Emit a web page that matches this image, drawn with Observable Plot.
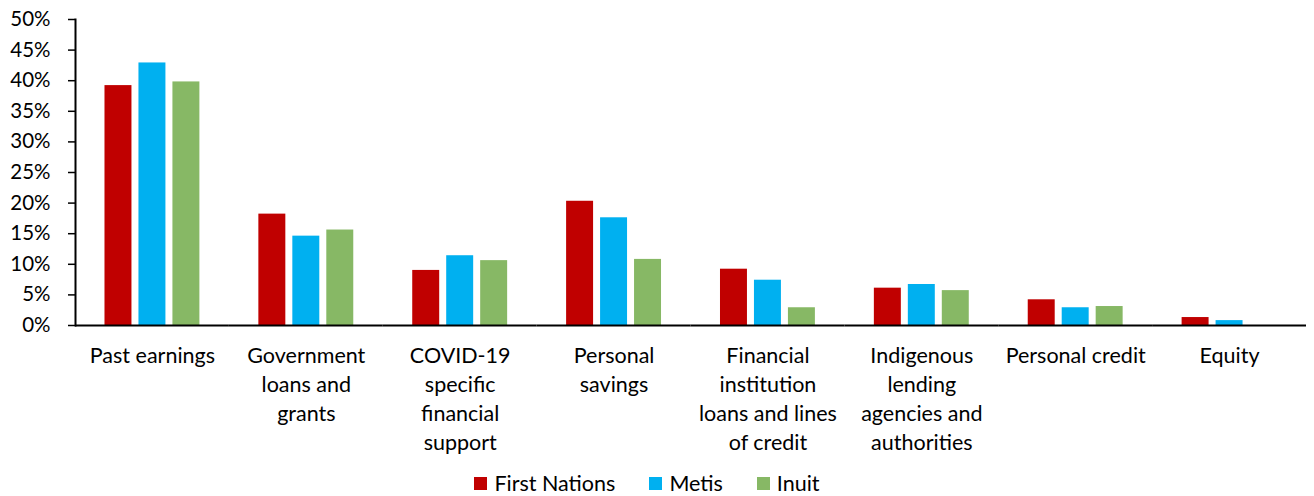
<!DOCTYPE html>
<html><head><meta charset="utf-8">
<script src="https://cdn.jsdelivr.net/npm/d3@7"></script>
<script src="https://cdn.jsdelivr.net/npm/@observablehq/plot@0.6"></script>
<style>
body{margin:0;background:#fff;font-family:Lato, "Noto Sans", sans-serif;}
#legend{display:flex;justify-content:center;align-items:center;height:26px;padding-top:8px;padding-right:20px;font-size:21.5px;color:#000;}
#legend .item{display:flex;align-items:center;margin:0 17px;}
#legend .sw{width:13px;height:13px;margin-right:7px;}
</style>
</head><body><div id="chart"></div><div id="legend"></div><script>
const categories = ["Past earnings","Government loans and grants","COVID-19 specific financial support","Personal savings","Financial institution loans and lines of credit","Indigenous lending agencies and authorities","Personal credit","Equity"];
const categoryLabels = ["Past earnings","Government\nloans and\ngrants","COVID-19\nspecific\nfinancial\nsupport","Personal\nsavings","Financial\ninstitution\nloans and lines\nof credit","Indigenous\nlending\nagencies and\nauthorities","Personal credit","Equity"];
const series = ["First Nations","Metis","Inuit"];
const firstNations = [39.2, 18.2, 9.0, 20.3, 9.2, 6.1, 4.2, 1.3];
const metis = [42.9, 14.6, 11.4, 17.6, 7.4, 6.7, 2.9, 0.8];
const inuit = [39.8, 15.6, 10.6, 10.8, 2.9, 5.7, 3.1, 0];
const colors = ["#C00000","#00B0F0","#87B865"];
const yTicks = [0,5,10,15,20,25,30,35,40,45,50];

const seriesValues = [firstNations, metis, inuit];
const data = [];
categories.forEach((c, i) => series.forEach((s, j) => data.push({category: c, series: s, value: seriesValues[j][i]})));

const plot = Plot.plot({
  width: 1314, height: 462,
  marginLeft: 75, marginRight: 8, marginTop: 19, marginBottom: 137,
  style: {fontFamily: "Lato, 'Noto Sans', sans-serif", fontSize: "20px", color: "#000", background: "#fff"},
  fx: {domain: categories, padding: 0, label: null, round: false},
  x: {domain: series, paddingInner: 0.206, paddingOuter: 0.868, axis: null, round: false},
  y: {domain: [0, 50], label: null},
  color: {domain: series, range: colors},
  marks: [
    Plot.barY(data, {fx: "category", x: "series", y: "value", fill: "series", insetLeft: 0, insetRight: 0}),
    Plot.axisY({ticks: yTicks, tickFormat: d => d + "%", tickSize: 7, tickPadding: 18, fontSize: 20.5, label: null, strokeWidth: 1.5}),
    Plot.axisFx({anchor: "bottom", tickSize: 0, tickPadding: 17, tickFormat: d => categoryLabels[categories.indexOf(d)], lineHeight: 1.35, fontSize: 21.5, label: null}),
    Plot.frame({anchor: "left", facet: "super", strokeWidth: 2}),
    Plot.ruleY([0], {strokeWidth: 2})
  ]
});
document.getElementById("chart").appendChild(plot);

const legend = document.getElementById("legend");
series.forEach((s, i) => {
  const item = document.createElement("div");
  item.className = "item";
  const sw = document.createElement("span");
  sw.className = "sw";
  sw.style.background = colors[i];
  const t = document.createElement("span");
  t.textContent = s;
  item.appendChild(sw); item.appendChild(t);
  legend.appendChild(item);
});
</script></body></html>
